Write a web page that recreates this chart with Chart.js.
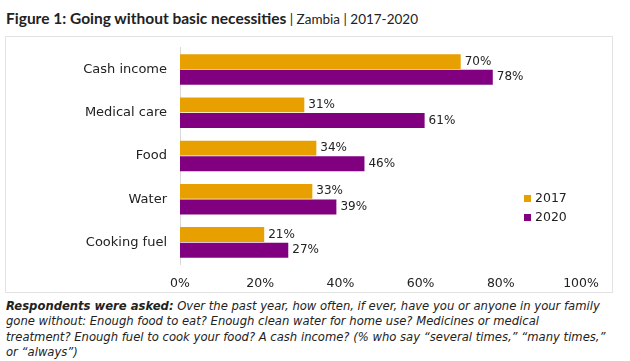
<!DOCTYPE html>
<html>
<head>
<meta charset="utf-8">
<script src="https://cdn.jsdelivr.net/npm/chart.js@4"></script>
<style>
  body { margin: 0; background: #fff; font-family: "DejaVu Sans", sans-serif; color: #222; }
  #page { position: relative; width: 630px; height: 361px; overflow: hidden; }
  #title { position: absolute; left: 6px; top: 9px; font-family: Lato, sans-serif; font-size: 13.5px; white-space: nowrap; }
  #title b { font-weight: bold; font-size: 15.5px; }
  #frame { position: absolute; left: 5px; top: 36px; width: 606px; height: 255px; border: 1px solid #e2e2e2; }
  #frame canvas { position: absolute; left: 0; top: -10px; }
  #legend { position: absolute; left: 518px; top: 151px; font-size: 12.5px; }
  #legend div { height: 19px; line-height: 19px; white-space: nowrap; }
  #legend span { display: inline-block; width: 7px; height: 7px; margin-right: 4px; vertical-align: 0px; }
  #note { position: absolute; left: 6px; top: 299px; width: 624px; font-size: 11.6px; line-height: 15.4px; font-style: italic; white-space: nowrap; }
</style>
</head>
<body>
<div id="page">
  <div id="title"><b>Figure 1: Going without basic necessities</b> | Zambia | 2017-2020</div>
  <div id="frame">
    <canvas id="chart1" width="606" height="265"></canvas>
    <div id="legend"></div>
  </div>
  <div id="note"><b>Respondents were asked:</b> Over the past year, how often, if ever, have you or anyone in your family<br>gone without: Enough food to eat? Enough clean water for home use? Medicines or medical<br>treatment? Enough fuel to cook your food? A cash income? (% who say “several times,” “many times,”<br>or “always”)</div>
</div>
<script>
const categories = ["Cash income", "Medical care", "Food", "Water", "Cooking fuel"];
const values2017 = [70, 31, 34, 33, 21];
const values2020 = [78, 61, 46, 39, 27];
const xTicks = [0, 20, 40, 60, 80, 100];

const orange = "#E8A000";
const purple = "#800080";

// value labels at the end of each bar
const barLabels = {
  id: "barLabels",
  afterDatasetsDraw(chart) {
    const ctx = chart.ctx;
    ctx.save();
    ctx.font = "12px 'DejaVu Sans', sans-serif";
    ctx.fillStyle = "#222";
    ctx.textBaseline = "middle";
    chart.data.datasets.forEach((ds, i) => {
      chart.getDatasetMeta(i).data.forEach((bar, j) => {
        ctx.fillText(ds.data[j] + "%", bar.x + 4, bar.y);
      });
    });
    ctx.restore();
  }
};

const ctx = document.getElementById("chart1").getContext("2d");
const chart = new Chart(ctx, {
  type: "bar",
  data: {
    labels: categories,
    datasets: [
      { label: "2017", data: values2017, backgroundColor: orange },
      { label: "2020", data: values2020, backgroundColor: purple }
    ]
  },
  options: {
    indexAxis: "y",
    responsive: false,
    animation: false,
    categoryPercentage: 0.72,
    barPercentage: 0.96,
    layout: { padding: { top: 8, right: 31, left: 0, bottom: 0 } },
    plugins: { legend: { display: false }, tooltip: { enabled: false } },
    scales: {
      x: {
        min: 0, max: 100,
        afterBuildTicks(scale) { scale.ticks = xTicks.map(v => ({ value: v })); },
        grid: { display: false, drawTicks: false },
        border: { display: false },
        ticks: { padding: 12, color: "#222", font: { size: 12.5, family: "'DejaVu Sans', sans-serif" }, callback: v => v + "%" },
        afterFit(scale) { scale.height = 28; }
      },
      y: {
        grid: { display: false, drawTicks: false },
        border: { display: true, color: "#d9d9d9" },
        ticks: { padding: 13, color: "#222", font: { size: 13, family: "'DejaVu Sans', sans-serif" } },
        afterFit(scale) { scale.width = 174; }
      }
    }
  },
  plugins: [barLabels]
});

// legend
const legend = document.getElementById("legend");
chart.data.datasets.forEach(ds => {
  const row = document.createElement("div");
  row.innerHTML = '<span style="background:' + ds.backgroundColor + '"></span>' + ds.label;
  legend.appendChild(row);
});
</script>
</body>
</html>
